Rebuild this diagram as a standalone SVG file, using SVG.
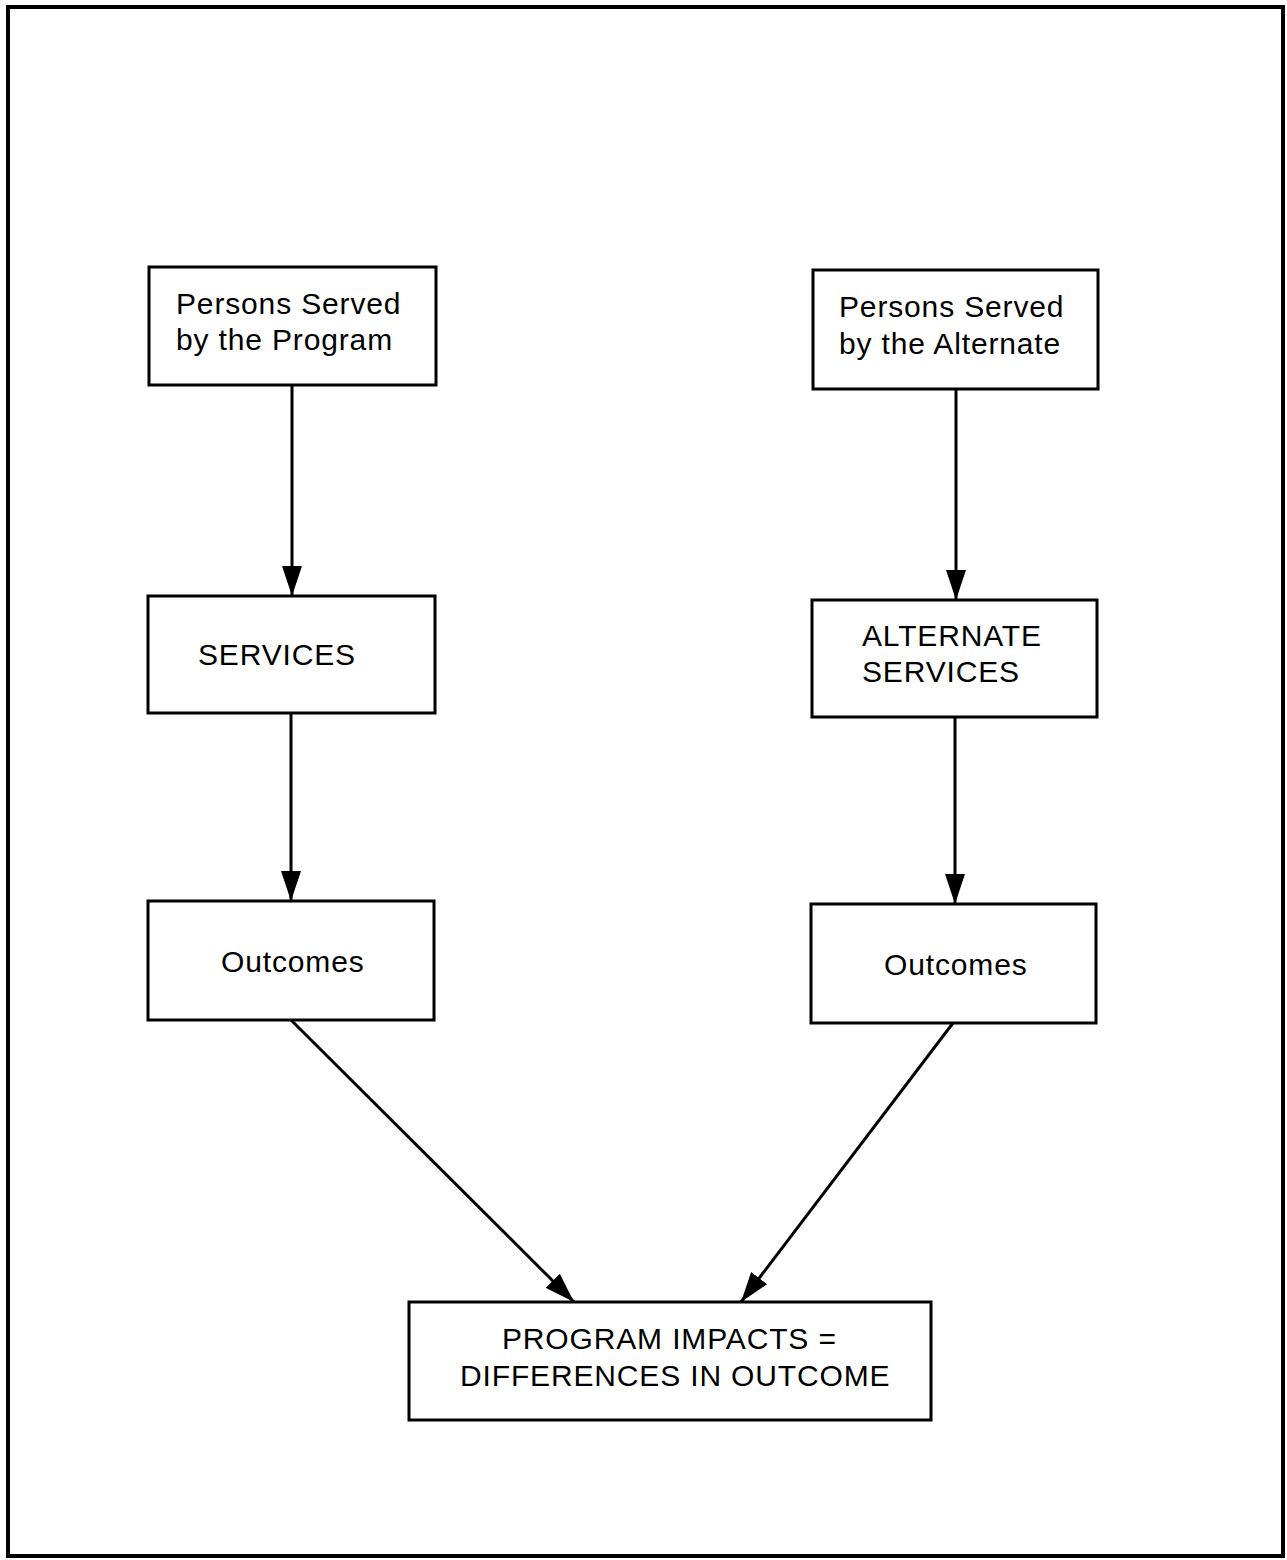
<svg xmlns="http://www.w3.org/2000/svg" width="1287" height="1560" viewBox="0 0 1287 1560">
<style>
.box{fill:#fff;stroke:#000;stroke-width:3}
.t{font-family:"Liberation Sans",Arial,sans-serif;font-size:30px;fill:#000;letter-spacing:0.85px}
.c{stroke:#000;stroke-width:3;fill:none;marker-end:url(#ah)}
</style>
<defs>
<marker id="ah" markerUnits="userSpaceOnUse" viewBox="0 0 30 20" refX="30" refY="10" markerWidth="30" markerHeight="20" orient="auto">
<path d="M0,0 L30,10 L0,20 Z" fill="#000"/>
</marker>
</defs>
<rect x="0" y="0" width="1287" height="1560" fill="#fff"/>
<rect x="8" y="7" width="1275" height="1549" fill="none" stroke="#000" stroke-width="4"/>
<g id="connectors">
<line class="c" x1="292" y1="385" x2="292" y2="596"/>
<line class="c" x1="956" y1="389" x2="956" y2="600"/>
<line class="c" x1="291" y1="713" x2="291" y2="901"/>
<line class="c" x1="955" y1="717" x2="955" y2="904"/>
<line class="c" x1="291" y1="1020" x2="574" y2="1302"/>
<line class="c" x1="953" y1="1023" x2="741" y2="1302"/>
</g>
<g id="program">
<rect class="box" x="149" y="267" width="287" height="118"/>
<text class="t" x="176" y="314">Persons Served</text>
<text class="t" x="176" y="350">by the Program</text>
</g>
<g id="alternate">
<rect class="box" x="813" y="270" width="285" height="119"/>
<text class="t" x="839" y="317">Persons Served</text>
<text class="t" x="839" y="354">by the Alternate</text>
</g>
<g id="services">
<rect class="box" x="148" y="596" width="287" height="117"/>
<text class="t" x="198" y="665">SERVICES</text>
</g>
<g id="alt-services">
<rect class="box" x="812" y="600" width="285" height="117"/>
<text class="t" x="862" y="646">ALTERNATE</text>
<text class="t" x="862" y="682">SERVICES</text>
</g>
<g id="outcomes-left">
<rect class="box" x="148" y="901" width="286" height="119"/>
<text class="t" x="221" y="972">Outcomes</text>
</g>
<g id="outcomes-right">
<rect class="box" x="811" y="904" width="285" height="119"/>
<text class="t" x="884" y="975">Outcomes</text>
</g>
<g id="impacts">
<rect class="box" x="409" y="1302" width="522" height="118"/>
<text class="t" x="502" y="1349">PROGRAM IMPACTS =</text>
<text class="t" x="460" y="1386">DIFFERENCES IN OUTCOME</text>
</g>
</svg>
